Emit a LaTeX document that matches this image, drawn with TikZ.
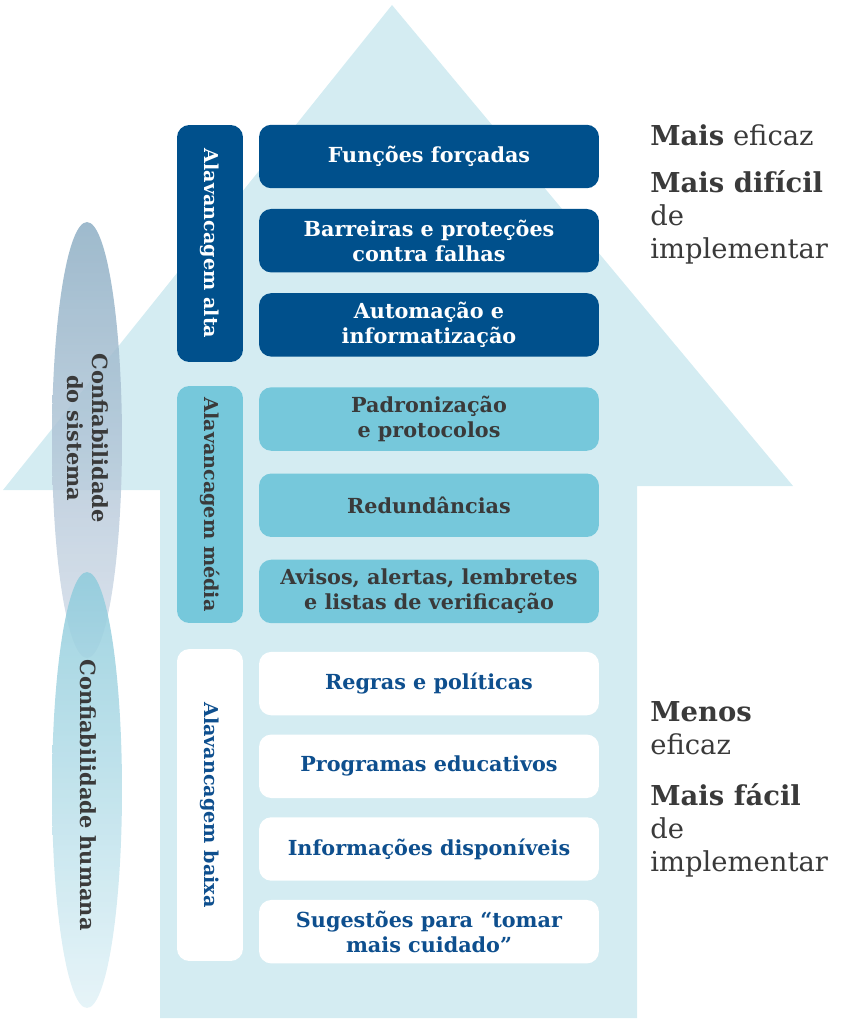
\documentclass[tikz,border=0pt]{standalone}
\usepackage{fontspec}
\setmainfont{DejaVu Serif}
\usetikzlibrary{positioning}

\definecolor{seta}{HTML}{D4ECF2}
\definecolor{azulesc}{HTML}{00508C}
\definecolor{azulmed}{HTML}{76C8DB}
\definecolor{cinza}{HTML}{3A3A3A}
\definecolor{azultxt}{HTML}{0E4F8E}
\definecolor{sistemaA}{HTML}{8DAEC4}
\definecolor{sistemaB}{HTML}{D6DEEA}
\definecolor{humanaA}{HTML}{8ECBDB}
\definecolor{humanaB}{HTML}{E2F2F7}

\tikzset{
  caixa/.style={rounded corners=7pt, minimum width=6.8cm, minimum height=1.27cm,
    inner sep=0pt, align=center, font=\bfseries\fontsize{11.8}{14.3}\selectfont},
  cxalta/.style={caixa, fill=azulesc, text=white},
  cxmedia/.style={caixa, fill=azulmed, text=cinza},
  cxbaixa/.style={caixa, fill=white, text=azultxt},
  barra/.style={rounded corners=7pt, rotate=-90, minimum height=1.32cm,
    inner sep=0pt, font=\bfseries\fontsize{10.9}{13}\selectfont},
  lado/.style={anchor=base west, inner sep=0pt, text=cinza, font=\fontsize{15.6}{18}\selectfont},
  conf/.style={rotate=-90, align=center, text=cinza, inner sep=0pt,
    font=\bfseries\fontsize{11.9}{14.5}\selectfont},
}

\begin{document}
\begin{tikzpicture}[x=0.02cm,y=-0.02cm]
\useasboundingbox (0,0) rectangle (843,1024);
% seta
\fill[seta] (392,5) -- (793,486) -- (637,486) -- (637,1018) -- (160,1018)
  -- (160,490) -- (3,490) -- cycle;

% elipses
\shade[top color=sistemaA, bottom color=sistemaB, fill opacity=0.85]
  (87,440) ellipse [x radius=0.7cm, y radius=4.36cm];
\shade[top color=humanaA, bottom color=humanaB, fill opacity=0.85]
  (87,790) ellipse [x radius=0.7cm, y radius=4.36cm];
\node[conf] (sistema) at (88,438) {Confiabilidade\\do sistema};
\node[conf] (humana) at (88,795) {Confiabilidade humana};

% alavancagem
\node[barra, fill=azulesc, text=white, minimum width=4.74cm] (alta) at (210,243.5) {Alavancagem alta};
\node[barra, fill=azulmed, text=cinza, minimum width=4.74cm] (media) at (210,504.5) {Alavancagem média};
\node[barra, fill=white, text=azultxt, minimum width=6.24cm] (baixa) at (210,805) {Alavancagem baixa};

% caixas
\node[cxalta] (f1) at (429,156.5) {Funções forçadas};
\node[cxalta, below=0.4cm of f1] (f2) {Barreiras e proteções\\contra falhas};
\node[cxalta, below=0.4cm of f2] (f3) {Automação e\\informatização};
\node[cxmedia, below=0.6cm of f3] (p1) {Padronização\\e protocolos};
\node[cxmedia, below=0.44cm of p1] (p2) {Redundâncias};
\node[cxmedia, below=0.44cm of p2] (p3) {Avisos, alertas, lembretes\\e listas de verificação};
\node[cxbaixa, below=0.56cm of p3] (r1) {Regras e políticas};
\node[cxbaixa, below=0.37cm of r1] (r2) {Programas educativos};
\node[cxbaixa, below=0.37cm of r2] (r3) {Informações disponíveis};
\node[cxbaixa, below=0.37cm of r3] (r4) {Sugestões para “tomar\\mais cuidado”};

% lado direito
\node[lado] (eficaz) at (650,145) {\textbf{Mais} eficaz};
\node[lado] (dificil) at (650,192) {\textbf{Mais difícil}};
\node[lado] (de1) at (650,225) {de};
\node[lado] (impl1) at (650,258) {implementar};
\node[lado] (menos) at (650,721) {\textbf{Menos}};
\node[lado] (eficaz2) at (650,754) {eficaz};
\node[lado] (facil) at (650,805) {\textbf{Mais fácil}};
\node[lado] (de2) at (650,838) {de};
\node[lado] (impl2) at (650,871) {implementar};
\end{tikzpicture}
\end{document}
